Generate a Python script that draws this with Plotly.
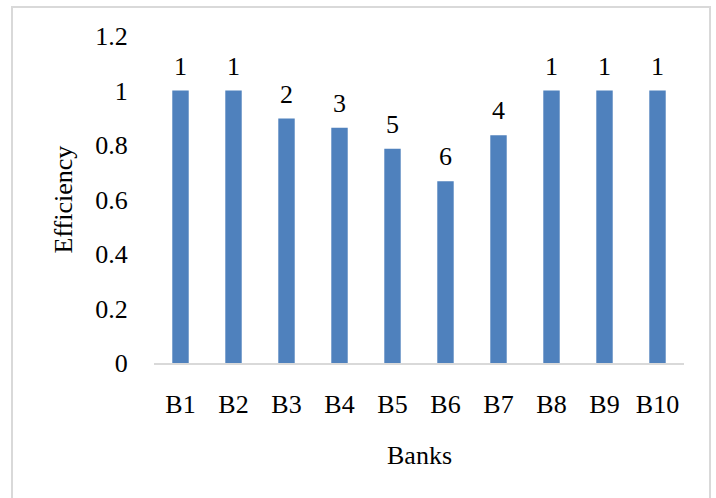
import plotly.graph_objects as go

banks = ["B1", "B2", "B3", "B4", "B5", "B6", "B7", "B8", "B9", "B10"]
efficiency = [1.0, 1.0, 0.897, 0.863, 0.786, 0.667, 0.836, 1.0, 1.0, 1.0]
ranks = ["1", "1", "2", "3", "5", "6", "4", "1", "1", "1"]
y_ticks = [0, 0.2, 0.4, 0.6, 0.8, 1.0, 1.2]
y_tick_text = ["0", "0.2", "0.4", "0.6", "0.8", "1", "1.2"]

FONT = dict(family="Liberation Serif", size=26, color="#000000")
W, H = 716, 498
ML, MR, MT, MB = 154, 32, 36, 135

fig = go.Figure()
fig.add_trace(go.Bar(
    x=banks, y=efficiency,
    marker=dict(color="#4F81BD", line=dict(width=0)),
    hoverinfo="x+y",
))

for b, v, r in zip(banks, efficiency, ranks):
    fig.add_annotation(x=b, y=v, text=r, showarrow=False, yanchor="bottom",
                       yshift=8, font=FONT)

pw = W - ML - MR
ph = H - MT - MB
fig.add_annotation(xref="paper", yref="paper", x=0.5, y=(H - MB - 455) / ph,
                   text="Banks", showarrow=False, font=FONT,
                   xanchor="center", yanchor="middle")
fig.add_annotation(xref="paper", yref="paper", x=(63 - ML) / pw, y=0.5,
                   text="Efficiency", showarrow=False, font=FONT, textangle=-90,
                   xanchor="center", yanchor="middle")

# outer chart border
fig.add_shape(type="rect", xref="paper", yref="paper",
              x0=(12 - ML) / pw, x1=(710 - ML) / pw,
              y0=-0.6, y1=(H - MB - 7) / ph,
              line=dict(color="#D9D9D9", width=2), layer="below")

fig.update_layout(
    width=W, height=H,
    margin=dict(l=ML, r=MR, t=MT, b=MB, pad=0),
    paper_bgcolor="white", plot_bgcolor="white",
    bargap=0.69,
    showlegend=False,
    font=FONT,
    xaxis=dict(
        showgrid=False, showline=True, linecolor="#D9D9D9", linewidth=2,
        ticks="outside", ticklen=17, tickcolor="rgba(0,0,0,0)",
        tickfont=FONT, zeroline=False,
    ),
    yaxis=dict(
        range=[0, 1.2], tickvals=y_ticks, ticktext=y_tick_text,
        showgrid=False, showline=False, zeroline=False,
        ticks="outside", ticklen=20, tickcolor="rgba(0,0,0,0)",
        tickfont=FONT,
    ),
)

fig.write_html("out.html")
